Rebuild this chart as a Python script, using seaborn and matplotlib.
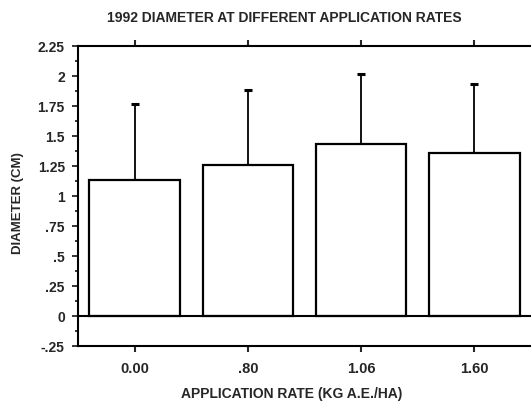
import matplotlib
matplotlib.use("Agg")
import matplotlib.pyplot as plt
import seaborn as sns
import pandas as pd
import numpy as np
from matplotlib.ticker import FixedLocator, MultipleLocator

categories = ["0.00", ".80", "1.06", "1.60"]
means = [1.13, 1.26, 1.43, 1.36]
errors = [0.63, 0.62, 0.58, 0.57]
ytick_vals = [-0.25, 0, 0.25, 0.5, 0.75, 1, 1.25, 1.5, 1.75, 2, 2.25]
ytick_labels = ["-.25", "0", ".25", ".5", ".75", "1", "1.25", "1.5", "1.75", "2", "2.25"]

sns.set_theme(style="ticks")
plt.rcParams['font.family'] = ['Liberation Sans', 'DejaVu Sans']

df = pd.DataFrame({"rate": categories, "diameter": means})

fig = plt.figure(figsize=(5.31, 4.02), dpi=100)
ax = fig.add_axes([0.147, 0.137, 0.853, 0.747])

sns.barplot(data=df, x="rate", y="diameter", order=categories, ax=ax,
            color="white", edgecolor="black", linewidth=1.6, width=0.8,
            errorbar=None, zorder=3)

ax.errorbar(np.arange(len(categories)), means,
            yerr=[np.zeros(len(errors)), errors], fmt="none",
            ecolor="black", elinewidth=1.3, capsize=3, capthick=2.2, zorder=2)

ax.axhline(0, color="black", linewidth=1.5, zorder=4)

ax.set_xlim(-0.5, 3.5)
ax.set_ylim(-0.25, 2.25)
ax.yaxis.set_major_locator(FixedLocator(ytick_vals))
ax.set_yticklabels(ytick_labels)
ax.yaxis.set_minor_locator(MultipleLocator(0.125))

for s in ["left", "bottom", "top"]:
    ax.spines[s].set_linewidth(1.5)
    ax.spines[s].set_color("black")
ax.spines["right"].set_visible(False)

ax.tick_params(axis="x", which="major", direction="out", length=4.5, width=1.5,
               top=True, bottom=True, labelsize=10.5, pad=6)
ax.tick_params(axis="y", which="major", direction="out", length=4.5, width=1.3,
               labelsize=10, pad=5)
ax.tick_params(axis="y", which="minor", direction="out", length=2.5, width=1.3)
for lab in ax.get_xticklabels() + ax.get_yticklabels():
    lab.set_fontweight("bold")

ax.set_xlabel("")
ax.set_ylabel("")
fig.text(0.549, 0.020, "APPLICATION RATE (KG A.E./HA)", ha="center", va="center",
         fontsize=10, fontweight="bold")
fig.text(0.034, 0.495, "DIAMETER (CM)", ha="center", va="center",
         rotation=90, fontsize=9.5, fontweight="bold")
fig.text(0.535, 0.955, "1992 DIAMETER AT DIFFERENT APPLICATION RATES",
         ha="center", va="center", fontsize=10, fontweight="bold")

fig.savefig("out.png", dpi=100, facecolor="white")
